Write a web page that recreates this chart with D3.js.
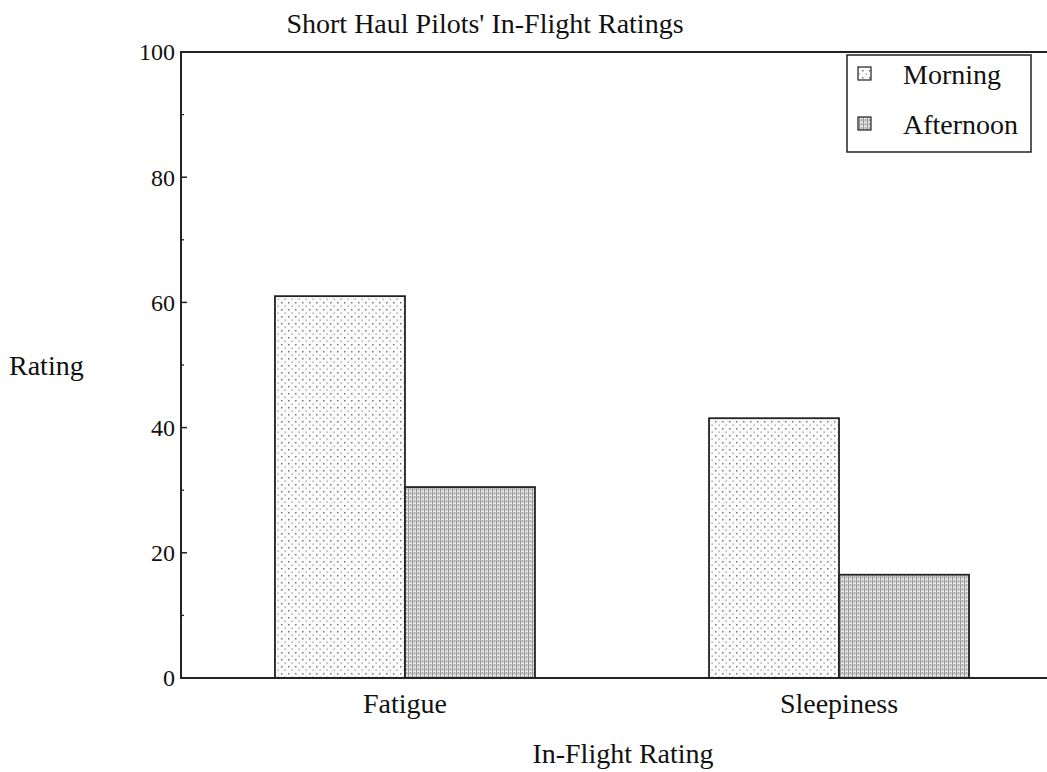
<!DOCTYPE html>
<html>
<head>
<meta charset="utf-8">
<script src="https://cdn.jsdelivr.net/npm/d3@7"></script>
<style>
	body { margin: 0; background: #fff; }
	text { font-family: "Liberation Serif", "DejaVu Serif", serif; fill: #111; }
</style>
</head>
<body>
<svg id="chart" width="1047" height="772"></svg>
<script>
"use strict";

// Data
var categories = ["Fatigue", "Sleepiness"];
var seriesNames = ["Morning", "Afternoon"];
var morning = [61, 41.5];
var afternoon = [30.5, 16.5];
var yTicks = [0, 20, 40, 60, 80, 100];

var svg = d3.select("#chart");
var margin = { top: 52, left: 181, bottom: 94, right: -16 };
var W = 1047, H = 772;

// Patterns for the bar fills
var defs = svg.append("defs");

var dots = defs.append("pattern")
	.attr("id", "dots")
	.attr("patternUnits", "userSpaceOnUse")
	.attr("width", 7).attr("height", 7);
dots.append("rect").attr("width", 7).attr("height", 7).attr("fill", "#fbfbfb");
dots.append("rect").attr("x", 1).attr("y", 1).attr("width", 1.5).attr("height", 1.5).attr("fill", "#777");
dots.append("rect").attr("x", 4.5).attr("y", 4.5).attr("width", 1.3).attr("height", 1.3).attr("fill", "#999");

var mesh = defs.append("pattern")
	.attr("id", "mesh")
	.attr("patternUnits", "userSpaceOnUse")
	.attr("width", 4).attr("height", 4);
mesh.append("rect").attr("width", 4).attr("height", 4).attr("fill", "#d0d0d0");
mesh.append("rect").attr("x", 0).attr("y", 0).attr("width", 1).attr("height", 4).attr("fill", "#969696");
mesh.append("rect").attr("x", 2).attr("y", 0).attr("width", 1).attr("height", 2).attr("fill", "#aaaaaa");
mesh.append("rect").attr("x", 1).attr("y", 3).attr("width", 3).attr("height", 1).attr("fill", "#eeeeee");

var fills = { Morning: "url(#dots)", Afternoon: "url(#mesh)" };

// Scales
var y = d3.scaleLinear()
	.domain([0, 100])
	.range([H - margin.bottom, margin.top]);

var x = d3.scalePoint()
	.domain(categories)
	.range([margin.left, W - margin.right])
	.padding(0.516);

var barW = 130;

// Bars
var rows = categories.map(function(c, i) {
	return { cat: c, values: [morning[i], afternoon[i]] };
});

var g = svg.append("g");
rows.forEach(function(r) {
	r.values.forEach(function(v, j) {
		var x0 = x(r.cat) - barW + j * barW;
		g.append("rect")
			.attr("x", x0)
			.attr("y", y(v))
			.attr("width", barW)
			.attr("height", y(0) - y(v))
			.attr("fill", fills[seriesNames[j]])
			.attr("stroke", "#222")
			.attr("stroke-width", 1.8);
	});
});

// Frame: left, top and bottom lines
svg.append("path")
	.attr("d", "M" + (W + 20) + "," + y(100) + "H" + margin.left + "V" + y(0) + "H" + (W + 20))
	.attr("fill", "none")
	.attr("stroke", "#222")
	.attr("stroke-width", 2);

// Y ticks (inward), major and minor
var minor = d3.range(10, 100, 20);
svg.selectAll(".ymaj")
	.data(yTicks.slice(1, -1))
	.enter().append("line")
	.attr("x1", margin.left).attr("x2", margin.left + 6)
	.attr("y1", function(d) { return y(d); })
	.attr("y2", function(d) { return y(d); })
	.attr("stroke", "#222").attr("stroke-width", 1.5);
svg.selectAll(".ymin")
	.data(minor)
	.enter().append("line")
	.attr("x1", margin.left).attr("x2", margin.left + 3)
	.attr("y1", function(d) { return y(d); })
	.attr("y2", function(d) { return y(d); })
	.attr("stroke", "#222").attr("stroke-width", 1.3);

svg.selectAll(".ylab")
	.data(yTicks)
	.enter().append("text")
	.attr("x", margin.left - 6)
	.attr("y", function(d) { return y(d); })
	.attr("dy", "0.35em")
	.attr("text-anchor", "end")
	.style("font-size", "24px")
	.text(function(d) { return d; });

// Category labels
svg.selectAll(".xlab")
	.data(categories)
	.enter().append("text")
	.attr("x", function(d) { return x(d); })
	.attr("y", 713)
	.attr("text-anchor", "middle")
	.style("font-size", "28px")
	.text(function(d) { return d; });

// Titles
svg.append("text")
	.attr("x", 485).attr("y", 33)
	.attr("text-anchor", "middle")
	.style("font-size", "28px")
	.text("Short Haul Pilots' In-Flight Ratings");

svg.append("text")
	.attr("x", 623).attr("y", 763)
	.attr("text-anchor", "middle")
	.style("font-size", "28px")
	.text("In-Flight Rating");

svg.append("text")
	.attr("x", 9).attr("y", 375)
	.style("font-size", "28px")
	.text("Rating");

// Legend
var lg = svg.append("g").attr("transform", "translate(847,55)");
lg.append("rect")
	.attr("width", 184).attr("height", 97)
	.attr("fill", "#fff")
	.attr("stroke", "#222")
	.attr("stroke-width", 1.5);
seriesNames.forEach(function(s, i) {
	lg.append("rect")
		.attr("x", 11).attr("y", 12 + i * 50)
		.attr("width", 13).attr("height", 13)
		.attr("fill", fills[s])
		.attr("stroke", "#222")
		.attr("stroke-width", 1.2);
	lg.append("text")
		.attr("x", 56).attr("y", 19 + i * 50)
		.attr("dy", "0.35em")
		.style("font-size", "28px")
		.text(s);
});
</script>
</body>
</html>
